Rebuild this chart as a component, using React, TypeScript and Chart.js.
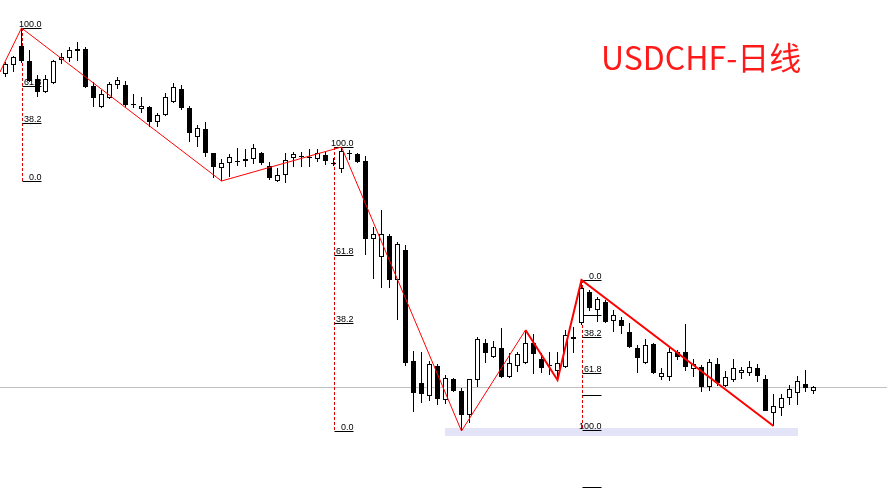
import React, { useEffect, useRef } from "react";
import { Chart, registerables } from "chart.js";

Chart.register(...registerables);

// Daily candles (open / high / low / close)
const opens = [
  0.9926, 0.9935, 0.9954, 0.9939, 0.9921, 0.9908, 0.9917, 0.9940, 0.9942, 0.9951,
  0.9951, 0.9914, 0.9893, 0.9902, 0.9915, 0.9915, 0.9896, 0.9891, 0.9893, 0.9878,
  0.9885, 0.9898, 0.9911, 0.9892, 0.9863, 0.9871, 0.9847, 0.9832, 0.9837, 0.9839,
  0.9841, 0.9841, 0.9847, 0.9834, 0.9819, 0.9825, 0.9842, 0.9844, 0.9843, 0.9841,
  0.9845, 0.9837, 0.9831, 0.9847, 0.9846, 0.9839, 0.9761, 0.9743, 0.9764, 0.9720,
  0.9750, 0.9639, 0.9617, 0.9604, 0.9634, 0.9600, 0.9621, 0.9609, 0.9585, 0.9620,
  0.9657, 0.9643, 0.9652, 0.9623, 0.9634, 0.9637, 0.9657, 0.9641, 0.9635, 0.9629,
  0.9633, 0.9661, 0.9677, 0.9708, 0.9690, 0.9698, 0.9679, 0.9680, 0.9668, 0.9652,
  0.9637, 0.9656, 0.9623, 0.9623, 0.9648, 0.9648, 0.9631, 0.9633, 0.9613, 0.9636,
  0.9614, 0.9620, 0.9627, 0.9627, 0.9632, 0.9621, 0.9587, 0.9592, 0.9602, 0.9607,
  0.9616, 0.9609,
];
const highs = [
  0.9938, 0.9944, 0.9972, 0.9950, 0.9925, 0.9925, 0.9940, 0.9947, 0.9953, 0.9958,
  0.9953, 0.9918, 0.9910, 0.9918, 0.9923, 0.9919, 0.9906, 0.9903, 0.9894, 0.9887,
  0.9907, 0.9917, 0.9915, 0.9894, 0.9875, 0.9878, 0.9847, 0.9841, 0.9846, 0.9852,
  0.9851, 0.9856, 0.9848, 0.9838, 0.9832, 0.9847, 0.9848, 0.9848, 0.9851, 0.9851,
  0.9848, 0.9842, 0.9853, 0.9850, 0.9847, 0.9844, 0.9773, 0.9790, 0.9766, 0.9758,
  0.9755, 0.9649, 0.9648, 0.9639, 0.9636, 0.9625, 0.9622, 0.9612, 0.9621, 0.9663,
  0.9661, 0.9659, 0.9672, 0.9647, 0.9648, 0.9670, 0.9666, 0.9647, 0.9648, 0.9648,
  0.9670, 0.9673, 0.9720, 0.9710, 0.9703, 0.9700, 0.9690, 0.9683, 0.9677, 0.9655,
  0.9661, 0.9657, 0.9632, 0.9652, 0.9650, 0.9676, 0.9641, 0.9635, 0.9641, 0.9642,
  0.9629, 0.9641, 0.9633, 0.9639, 0.9636, 0.9625, 0.9606, 0.9606, 0.9615, 0.9624,
  0.9630, 0.9614,
];
const lows = [
  0.9923, 0.9928, 0.9937, 0.9918, 0.9903, 0.9907, 0.9916, 0.9936, 0.9938, 0.9939,
  0.9912, 0.9893, 0.9892, 0.9901, 0.9911, 0.9893, 0.9892, 0.9887, 0.9873, 0.9873,
  0.9884, 0.9897, 0.9890, 0.9858, 0.9853, 0.9843, 0.9822, 0.9819, 0.9823, 0.9834,
  0.9833, 0.9836, 0.9835, 0.9820, 0.9818, 0.9817, 0.9833, 0.9833, 0.9833, 0.9838,
  0.9835, 0.9834, 0.9827, 0.9840, 0.9837, 0.9745, 0.9721, 0.9712, 0.9712, 0.9680,
  0.9634, 0.9588, 0.9597, 0.9599, 0.9595, 0.9596, 0.9608, 0.9569, 0.9577, 0.9613,
  0.9637, 0.9642, 0.9622, 0.9622, 0.9628, 0.9636, 0.9626, 0.9627, 0.9625, 0.9620,
  0.9632, 0.9647, 0.9675, 0.9689, 0.9678, 0.9677, 0.9668, 0.9666, 0.9652, 0.9627,
  0.9636, 0.9626, 0.9620, 0.9619, 0.9640, 0.9629, 0.9623, 0.9608, 0.9609, 0.9614,
  0.9613, 0.9618, 0.9621, 0.9624, 0.9618, 0.9589, 0.9574, 0.9584, 0.9595, 0.9595,
  0.9608, 0.9606,
];
const closes = [
  0.9936, 0.9943, 0.9939, 0.9919, 0.9908, 0.9921, 0.9939, 0.9943, 0.9950, 0.9949,
  0.9913, 0.9902, 0.9906, 0.9916, 0.9920, 0.9895, 0.9895, 0.9894, 0.9878, 0.9885,
  0.9903, 0.9913, 0.9892, 0.9867, 0.9872, 0.9847, 0.9833, 0.9837, 0.9843, 0.9838,
  0.9839, 0.9852, 0.9837, 0.9822, 0.9825, 0.9840, 0.9846, 0.9843, 0.9842, 0.9847,
  0.9839, 0.9836, 0.9849, 0.9846, 0.9838, 0.9761, 0.9766, 0.9766, 0.9720, 0.9756,
  0.9637, 0.9607, 0.9606, 0.9636, 0.9601, 0.9622, 0.9609, 0.9585, 0.9621, 0.9661,
  0.9647, 0.9653, 0.9623, 0.9637, 0.9646, 0.9657, 0.9646, 0.9632, 0.9634, 0.9637,
  0.9665, 0.9663, 0.9712, 0.9692, 0.9701, 0.9678, 0.9685, 0.9674, 0.9653, 0.9642,
  0.9655, 0.9627, 0.9627, 0.9648, 0.9643, 0.9633, 0.9636, 0.9613, 0.9638, 0.9617,
  0.9623, 0.9632, 0.9630, 0.9633, 0.9624, 0.9589, 0.9594, 0.9602, 0.9611, 0.9619,
  0.9612, 0.9613,
];

// ZigZag turning points: bar index, price
const zigThinIdx = [-0.6875, 2, 27, 42, 57, 65];
const zigThinPrice = [0.9928, 0.9972, 0.9819, 0.9853, 0.9569, 0.9670];
const zigThickIdx = [65, 69, 72, 96];
const zigThickPrice = [0.9670, 0.9620, 0.9720, 0.9574];

// Fibonacci retracements
const fib1 = { idx: 2, high: 0.9972, low: 0.9819 };
const fib2 = { idx: 41, high: 0.9853, low: 0.9569 };
const fib3 = { idx: 72, high: 0.9720, low: 0.9570 };
const fibLevelsUp = [100, 61.8, 38.2, 0];
const fibLevelsDown = [0, 23.6, 38.2, 61.8, 76.4, 100, 138.2];
const fibLabelsDown = ["0.0", "", "38.2", "61.8", "", "100.0", ""];

const refLinePrice = 0.9613;
const zoneStartIdx = 54.9;
const zoneEndIdx = 99;
const zoneTop = 0.9572;
const zoneBottom = 0.9564;

const TITLE = "USDCHF-日线";

export default function App() {
  const canvasRef = useRef<HTMLCanvasElement | null>(null);

  useEffect(() => {
    const canvas = canvasRef.current;
    if (!canvas) return;
    const idx = opens.map((_, i) => i);
    const up = opens.map((o, i) => closes[i] >= o);

    const overlay = {
      id: "overlay",
      beforeDatasetsDraw(chart: any) {
        const ctx = chart.ctx as CanvasRenderingContext2D;
        const xs = chart.scales.x;
        const ys = chart.scales.y;
        const area = chart.chartArea;
        ctx.save();
        // reference horizontal line
        const ry = Math.round(ys.getPixelForValue(refLinePrice)) + 0.5;
        ctx.strokeStyle = "#c0c0c0";
        ctx.lineWidth = 1;
        ctx.beginPath();
        ctx.moveTo(area.left, ry);
        ctx.lineTo(area.right, ry);
        ctx.stroke();
        // zone
        const zx0 = xs.getPixelForValue(zoneStartIdx);
        const zx1 = xs.getPixelForValue(zoneEndIdx);
        const zy0 = ys.getPixelForValue(zoneTop);
        const zy1 = ys.getPixelForValue(zoneBottom);
        ctx.fillStyle = "#e4e4f8";
        ctx.fillRect(Math.round(zx0), Math.round(zy0), Math.round(zx1 - zx0), Math.round(zy1 - zy0));

        const drawFib = (
          f: { idx: number; high: number; low: number },
          levels: number[],
          labels: string[],
          fromTop: boolean
        ) => {
          const x0 = Math.round(xs.getPixelForValue(f.idx)) + 0.5;
          const len = 19;
          const range = f.high - f.low;
          const priceOf = (l: number) => (fromTop ? f.high - (l / 100) * range : f.low + (l / 100) * range);
          // dashed vertical
          ctx.strokeStyle = "#e00000";
          ctx.setLineDash([3, 2]);
          ctx.beginPath();
          ctx.moveTo(x0, ys.getPixelForValue(f.high));
          ctx.lineTo(x0, ys.getPixelForValue(f.low));
          ctx.stroke();
          ctx.setLineDash([]);
          ctx.strokeStyle = "#000";
          ctx.fillStyle = "#000";
          ctx.font = "9px 'Liberation Sans', Arial, sans-serif";
          ctx.textAlign = "right";
          ctx.textBaseline = "alphabetic";
          levels.forEach((l, k) => {
            const py = Math.round(ys.getPixelForValue(priceOf(l))) + 0.5;
            ctx.beginPath();
            ctx.moveTo(x0, py);
            ctx.lineTo(x0 + len, py);
            ctx.stroke();
            if (labels[k]) ctx.fillText(labels[k], x0 + len, py - 2);
          });
        };
        drawFib(fib1, fibLevelsUp, fibLevelsUp.map((l) => l.toFixed(1)), false);
        drawFib(fib2, fibLevelsUp, fibLevelsUp.map((l) => l.toFixed(1)), false);
        drawFib(fib3, fibLevelsDown, fibLabelsDown, true);
        ctx.restore();
      },
    };

    const chart = new Chart(canvas, {
      type: "bar",
      data: {
        datasets: [
          {
            type: "line",
            data: zigThickIdx.map((x, k) => ({ x, y: zigThickPrice[k] })),
            borderColor: "#ff0000",
            borderWidth: 2,
            pointRadius: 0,
            tension: 0,
            order: 0,
          } as any,
          {
            type: "line",
            data: zigThinIdx.map((x, k) => ({ x, y: zigThinPrice[k] })),
            borderColor: "#ff0000",
            borderWidth: 1,
            pointRadius: 0,
            tension: 0,
            order: 0,
          } as any,
          {
            type: "bar",
            data: idx.map((i) => ({ x: i, y: [opens[i], closes[i]] })),
            backgroundColor: up.map((u) => (u ? "#ffffff" : "#000000")),
            borderColor: "#000000",
            borderWidth: 1,
            borderSkipped: false,
            barThickness: 5,
            grouped: false,
            inflateAmount: 0,
            order: 1,
          } as any,
          {
            type: "bar",
            data: idx.map((i) => ({ x: i, y: [lows[i], highs[i]] })),
            backgroundColor: "#000000",
            borderWidth: 0,
            barThickness: 1,
            grouped: false,
            inflateAmount: 0,
            order: 2,
          } as any,
        ],
      },
      options: {
        animation: false,
        responsive: true,
        maintainAspectRatio: false,
        devicePixelRatio: 1,
        layout: { padding: 0 },
        plugins: { legend: { display: false }, tooltip: { enabled: false }, title: { display: false } },
        scales: {
          x: { type: "linear", display: false, offset: false, min: -0.6875, max: -0.6875 + 887 / 8 },
          y: { type: "linear", display: false, min: 0.9501, max: 1.0 },
        },
      },
      plugins: [overlay],
    } as any);
    return () => chart.destroy();
  }, []);

  return (
    <div style={{ position: "fixed", left: 0, top: 0, width: 887, height: 499, background: "#fff" }}>
      <canvas ref={canvasRef} />
      <div
        style={{
          position: "absolute",
          left: 601,
          top: 34,
          fontFamily: "'Noto Sans CJK SC', 'Noto Sans', sans-serif",
          fontSize: 32,
          lineHeight: "44px",
          color: "#ff1a1a",
          whiteSpace: "nowrap",
        }}
      >
        {TITLE}
      </div>
    </div>
  );
}
